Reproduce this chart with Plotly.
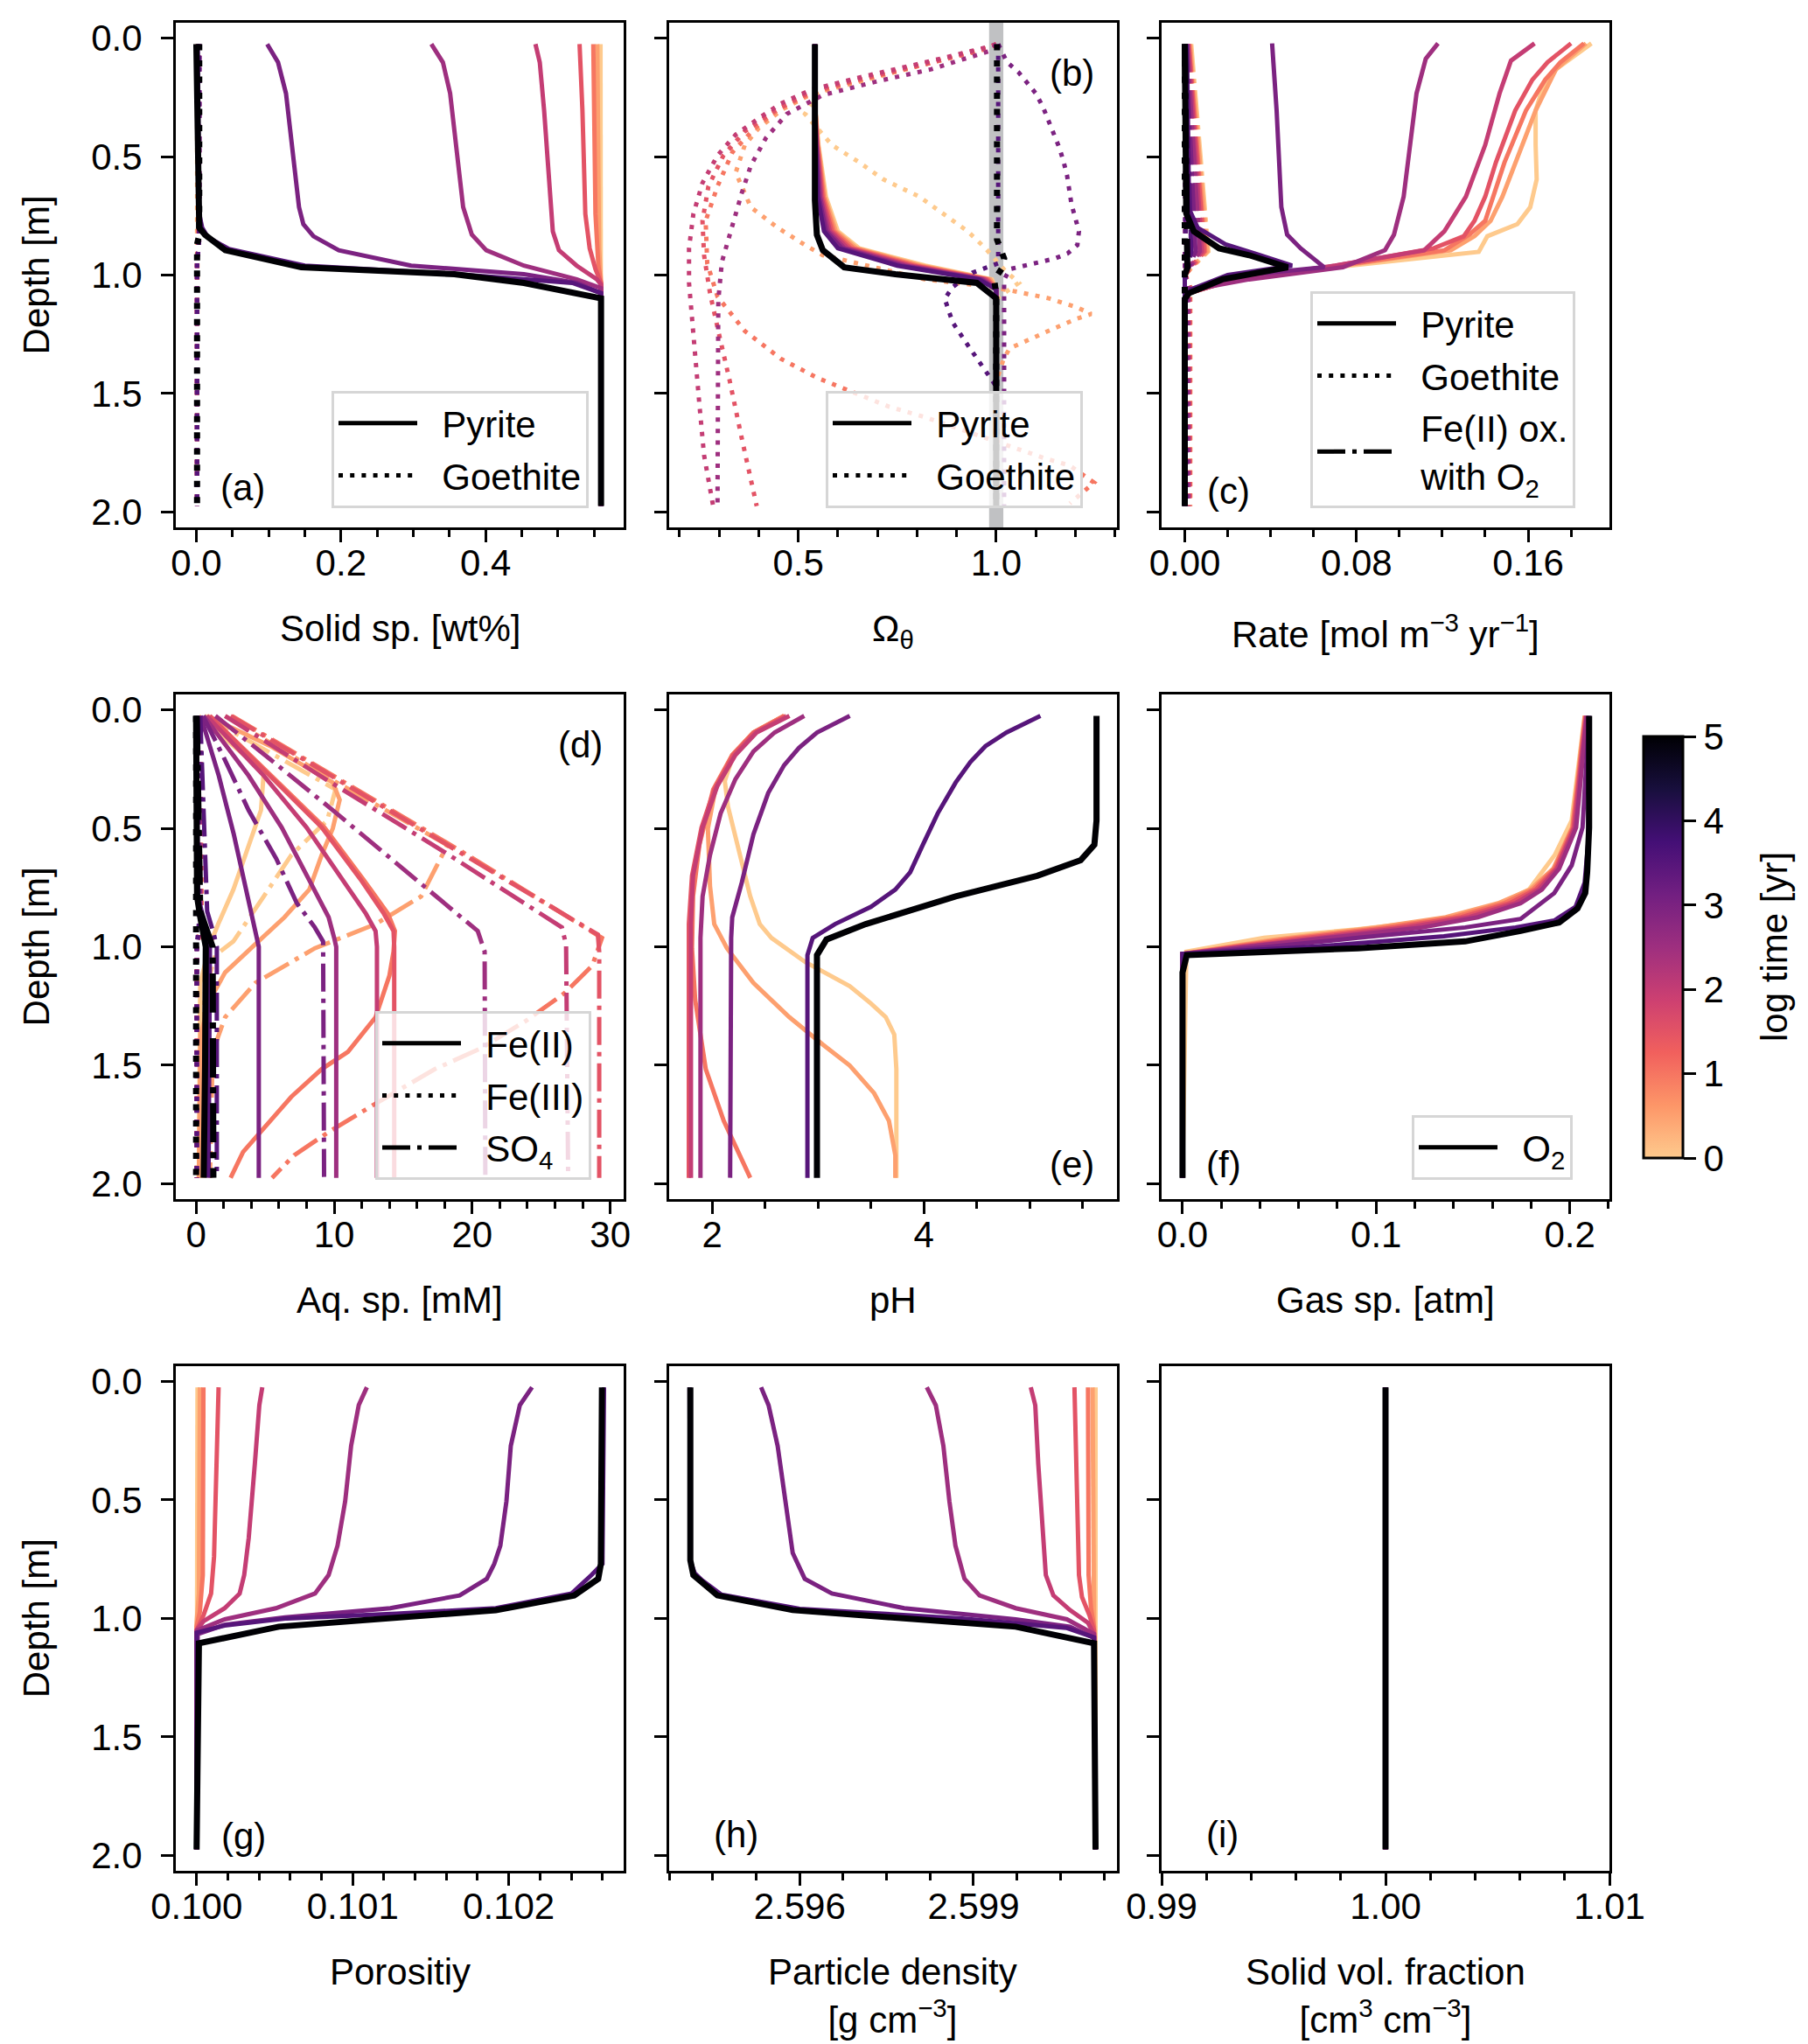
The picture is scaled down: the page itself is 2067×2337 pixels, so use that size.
import plotly.graph_objects as go

W, H = 2067, 2337
FONT = "Liberation Sans, Arial, sans-serif"
FS = 42

# log10 of time [yr] for each profile
LOG_T = [0, 0.5, 1, 1.5, 2, 2.5, 3, 3.5, 5]
# magma, reversed and cut before the pale yellow end
MAGMA_R = ["#feca8d", "#fd9668", "#f1605d", "#cd4071", "#9e2f7f",
           "#721f81", "#440f76", "#180f3d", "#000004"]

# (a) solid species [wt%]: depth list, value list
A_PYRITE = {
    0: ([0.025, 1.975], [0.559, 0.5597]),
    0.5: ([0.025, 0.887, 1.033, 1.975], [0.5545, 0.557, 0.5597, 0.5597]),
    1: ([0.025, 0.742, 0.96, 1.033, 1.975], [0.549, 0.552, 0.556, 0.5597, 0.5597]),
    1.5: ([0.025, 0.305, 0.742, 0.887, 0.975, 1.033, 1.975],
          [0.530, 0.534, 0.538, 0.544, 0.552, 0.5597, 0.5597]),
    2: ([0.025, 0.102, 0.305, 0.596, 0.815, 0.895, 0.96, 1.018, 1.04, 1.975],
        [0.469, 0.475, 0.481, 0.487, 0.493, 0.5015, 0.526, 0.554, 0.5597, 0.5597]),
    2.5: ([0.025, 0.102, 0.233, 0.451, 0.713, 0.829, 0.895, 0.96, 1.018, 1.055, 1.975],
          [0.325, 0.341, 0.351, 0.359, 0.369, 0.381, 0.401, 0.453, 0.526, 0.5597, 0.5597]),
    3: ([0.025, 0.102, 0.233, 0.451, 0.713, 0.785, 0.836, 0.895, 0.96, 0.996, 1.033, 1.076, 1.975],
        [0.098, 0.113, 0.124, 0.132, 0.142, 0.148, 0.162, 0.197, 0.297, 0.453, 0.526, 0.5597, 0.5597]),
    3.5: ([0.025, 0.74, 0.80, 0.84, 0.89, 0.96, 0.996, 1.033, 1.076, 1.975],
          [0.002, 0.004, 0.008, 0.016, 0.045, 0.15, 0.36, 0.52, 0.5597, 0.5597]),
    5: ([0.025, 0.74, 0.80, 0.83, 0.895, 0.967, 0.996, 1.033, 1.098, 1.975],
        [0.0, 0.002, 0.004, 0.012, 0.04, 0.145, 0.357, 0.453, 0.5597, 0.5597]),
}
A_GOETHITE = {
    0: ([0.025, 0.85, 0.95, 1.975], [0.001, 0.001, 0.001, 0.001]),
    0.5: ([0.025, 0.85, 0.95, 1.975], [0.002, 0.002, 0.001, 0.001]),
    1: ([0.025, 0.85, 0.95, 1.975], [0.003, 0.003, 0.001, 0.001]),
    1.5: ([0.025, 0.85, 0.95, 1.975], [0.003, 0.003, 0.001, 0.001]),
    2: ([0.025, 0.85, 0.95, 1.975], [0.004, 0.004, 0.001, 0.001]),
    2.5: ([0.025, 0.85, 0.95, 1.975], [0.004, 0.004, 0.001, 0.001]),
    3: ([0.025, 0.85, 0.95, 1.975], [0.004, 0.004, 0.001, 0.001]),
    3.5: ([0.025, 0.85, 0.95, 1.975], [0.004, 0.004, 0.001, 0.001]),
    5: ([0.025, 0.83, 0.87, 1.975], [0.004, 0.004, 0.001, 0.001]),
}

# (b) saturation state
B_PYRITE = {
    0: ([0.025, 0.3, 0.45, 0.67, 0.815, 0.887, 0.96, 1.018, 1.06, 1.975],
        [0.542, 0.543, 0.551, 0.57, 0.6, 0.654, 0.821, 0.989, 1.0, 1.0]),
    0.5: ([0.025, 0.3, 0.45, 0.67, 0.815, 0.887, 0.96, 1.018, 1.06, 1.975],
          [0.542, 0.543, 0.550, 0.567, 0.595, 0.647, 0.81, 0.985, 1.0, 1.0]),
    1: ([0.025, 0.3, 0.45, 0.67, 0.815, 0.887, 0.96, 1.018, 1.06, 1.975],
        [0.542, 0.543, 0.549, 0.564, 0.59, 0.64, 0.80, 0.98, 1.0, 1.0]),
    1.5: ([0.025, 0.3, 0.45, 0.67, 0.815, 0.887, 0.96, 1.018, 1.06, 1.975],
          [0.542, 0.542, 0.548, 0.561, 0.585, 0.632, 0.79, 0.975, 1.0, 1.0]),
    2: ([0.025, 0.3, 0.45, 0.67, 0.815, 0.887, 0.96, 1.018, 1.06, 1.975],
        [0.542, 0.542, 0.547, 0.558, 0.58, 0.625, 0.78, 0.97, 1.0, 1.0]),
    2.5: ([0.025, 0.3, 0.45, 0.67, 0.815, 0.887, 0.96, 1.018, 1.06, 1.975],
          [0.542, 0.542, 0.546, 0.555, 0.575, 0.617, 0.77, 0.965, 1.0, 1.0]),
    3: ([0.025, 0.3, 0.45, 0.67, 0.815, 0.887, 0.96, 1.018, 1.06, 1.975],
        [0.542, 0.542, 0.545, 0.552, 0.57, 0.61, 0.76, 0.96, 1.0, 1.0]),
    3.5: ([0.025, 0.3, 0.45, 0.67, 0.815, 0.887, 0.96, 1.018, 1.06, 1.975],
          [0.542, 0.542, 0.544, 0.549, 0.565, 0.6, 0.75, 0.955, 1.0, 1.0]),
    5: ([0.025, 0.684, 0.83, 0.895, 0.967, 0.996, 1.033, 1.062, 1.098, 1.975],
        [0.542, 0.542, 0.547, 0.562, 0.616, 0.745, 0.951, 0.973, 1.0, 1.0]),
}
B_GOETHITE = {
    0: ([0.025, 0.04, 0.11, 0.17, 0.23, 0.32, 0.451, 0.524, 0.596, 0.669, 0.742, 0.815, 0.887,
         0.975, 1.033, 1.1, 1.975],
        [1.0, 0.985, 0.82, 0.68, 0.55, 0.517, 0.585, 0.654, 0.715, 0.806, 0.867, 0.928, 0.973,
         1.019, 1.057, 1.0, 1.0]),
    0.5: ([0.025, 0.04, 0.11, 0.17, 0.23, 0.30, 0.38, 0.451, 0.567, 0.713, 0.8, 0.873, 0.916, 0.97,
           1.018, 1.047, 1.069, 1.098, 1.135, 1.164, 1.185, 1.229, 1.28, 1.309, 1.353, 1.45, 1.975],
          [1.0, 0.985, 0.82, 0.675, 0.54, 0.46, 0.4, 0.365, 0.342, 0.38, 0.448, 0.517, 0.562, 0.7,
           0.821, 0.973, 1.049, 1.133, 1.202, 1.24, 1.202, 1.141, 1.072, 1.034, 1.019, 1.0, 1.0]),
    1: ([0.025, 0.04, 0.11, 0.17, 0.23, 0.30, 0.38, 0.48, 0.625, 0.771, 0.95, 1.091, 1.236, 1.353,
         1.433, 1.484, 1.556, 1.6, 1.644, 1.687, 1.731, 1.775, 1.804, 1.876, 1.964],
        [1.0, 0.985, 0.82, 0.67, 0.535, 0.45, 0.39, 0.334, 0.296, 0.266, 0.27, 0.296, 0.365, 0.456,
         0.547, 0.623, 0.73, 0.821, 0.897, 0.973, 1.049, 1.126, 1.186, 1.247, 1.186]),
    1.5: ([0.025, 0.036, 0.109, 0.167, 0.225, 0.305, 0.393, 0.495, 0.625, 0.771, 0.916, 1.076,
           1.251, 1.44, 1.687, 1.975],
          [1.0, 0.985, 0.821, 0.669, 0.532, 0.441, 0.365, 0.311, 0.273, 0.258, 0.262, 0.277,
           0.3, 0.326, 0.357, 0.395]),
    2: ([0.025, 0.036, 0.102, 0.16, 0.218, 0.276, 0.335, 0.407, 0.495, 0.611, 0.742, 0.887,
         1.033, 1.178, 1.324, 1.542, 1.76, 1.975],
        [1.0, 0.981, 0.821, 0.669, 0.532, 0.456, 0.403, 0.342, 0.296, 0.258, 0.235, 0.224,
         0.224, 0.231, 0.239, 0.25, 0.262, 0.285]),
    2.5: ([0.025, 0.051, 0.131, 0.182, 0.24, 0.32, 0.422, 0.538, 0.655, 0.785, 0.945, 1.105,
           1.469, 1.975],
          [1.0, 0.989, 0.836, 0.699, 0.562, 0.471, 0.418, 0.38, 0.357, 0.334, 0.307, 0.298,
           0.298, 0.296]),
    3: ([0.025, 0.10, 0.145, 0.19, 0.233, 0.29, 0.35, 0.41, 0.465, 0.52, 0.58, 0.70, 0.756,
         0.815, 0.873, 0.909, 0.93, 0.945, 0.96, 0.975, 1.02, 1.975],
        [1.005, 1.027, 1.057, 1.08, 1.1, 1.118, 1.133, 1.148, 1.16, 1.17, 1.179, 1.19, 1.198,
         1.209, 1.205, 1.18, 1.148, 1.11, 1.072, 1.034, 1.02, 1.02]),
    3.5: ([0.025, 0.95, 0.99, 1.05, 1.1, 1.2, 1.3, 1.4, 1.47, 1.975],
          [1.005, 1.005, 0.94, 0.89, 0.87, 0.89, 0.93, 0.97, 1.0, 1.0]),
    5: ([0.025, 0.85, 0.93, 0.97, 1.02, 1.08, 1.975],
        [1.002, 1.002, 1.02, 1.015, 0.995, 1.0, 1.0]),
}
OMEGA_EQ = 1.0

# (c) rates [mol m-3 yr-1]
C_PYRITE = {
    0: ([0.022, 0.131, 0.233, 0.305, 0.451, 0.596, 0.713, 0.785, 0.836, 0.902, 0.967, 1.018, 1.076, 1.1, 1.975],
        [0.1895, 0.173, 0.166, 0.1635, 0.1635, 0.164, 0.161, 0.155, 0.141, 0.137, 0.07, 0.023, 0.002, 0.0, 0.0]),
    0.5: ([0.022, 0.131, 0.305, 0.524, 0.669, 0.771, 0.836, 0.895, 0.967, 1.018, 1.076, 1.1, 1.975],
          [0.187, 0.173, 0.1635, 0.154, 0.148, 0.1425, 0.135, 0.124, 0.068, 0.023, 0.002, 0.0, 0.0]),
    1: ([0.022, 0.102, 0.175, 0.305, 0.524, 0.669, 0.771, 0.829, 0.895, 0.967, 1.018, 1.076, 1.1, 1.975],
        [0.186, 0.175, 0.168, 0.159, 0.149, 0.144, 0.14, 0.1326, 0.121, 0.067, 0.023, 0.002, 0.0, 0.0]),
    1.5: ([0.022, 0.102, 0.175, 0.305, 0.524, 0.669, 0.771, 0.836, 0.887, 0.967, 1.018, 1.076, 1.1, 1.975],
          [0.180, 0.169, 0.162, 0.154, 0.145, 0.14, 0.135, 0.13, 0.116, 0.066, 0.023, 0.002, 0.0, 0.0]),
    2: ([0.022, 0.095, 0.233, 0.451, 0.669, 0.815, 0.895, 0.96, 1.018, 1.076, 1.1, 1.975],
        [0.163, 0.152, 0.1467, 0.14, 0.131, 0.121, 0.1116, 0.07, 0.023, 0.002, 0.0, 0.0]),
    2.5: ([0.022, 0.087, 0.233, 0.451, 0.669, 0.829, 0.895, 0.967, 1.018, 1.062, 1.105, 1.975],
          [0.118, 0.1123, 0.108, 0.105, 0.102, 0.0975, 0.0933, 0.0737, 0.03, 0.0035, 0.0, 0.0]),
    3: ([0.022, 0.305, 0.713, 0.829, 0.887, 0.967, 1.004, 1.062, 1.105, 1.975],
        [0.0407, 0.0428, 0.045, 0.0477, 0.054, 0.065, 0.023, 0.002, 0.0, 0.0]),
    3.5: ([0.025, 0.72, 0.80, 0.87, 0.91, 0.96, 1.0, 1.06, 1.1, 1.975],
          [0.001, 0.002, 0.006, 0.019, 0.033, 0.05, 0.02, 0.003, 0.0, 0.0]),
    5: ([0.025, 0.74, 0.815, 0.887, 0.916, 0.967, 1.018, 1.076, 1.1, 1.975],
        [0.0, 0.0007, 0.0042, 0.016, 0.03, 0.048, 0.0175, 0.002, 0.0, 0.0]),
}
C_GOETHITE = {
    0: ([0.025, 0.9, 1.0, 1.05, 1.975], [0.0008, 0.0008, 0.0003, 0.0025, 0.0025]),
    0.5: ([0.025, 0.9, 1.0, 1.05, 1.975], [0.0008, 0.0008, 0.0003, 0.0025, 0.0025]),
    1: ([0.025, 0.9, 1.0, 1.05, 1.975], [0.0008, 0.0008, 0.0003, 0.0025, 0.0025]),
    1.5: ([0.025, 0.9, 1.0, 1.05, 1.975], [0.0008, 0.0008, 0.0003, 0.0022, 0.0022]),
    2: ([0.025, 0.9, 1.0, 1.05, 1.975], [0.0006, 0.0006, 0.0003, 0.002, 0.002]),
    2.5: ([0.025, 0.9, 1.0, 1.05, 1.975], [0.0005, 0.0005, 0.0002, 0.0015, 0.0015]),
    3: ([0.025, 0.9, 1.0, 1.05, 1.975], [0.0003, 0.0003, 0.0002, 0.001, 0.001]),
    3.5: ([0.025, 0.9, 1.0, 1.05, 1.975], [0.0002, 0.0002, 0.0001, 0.0005, 0.0005]),
    5: ([0.025, 1.975], [0.0, 0.0]),
}
C_FEOX = {
    0: ([0.025, 0.9, 0.97, 1.0, 1.975], [0.003, 0.011, 0.003, 0.0, 0.0]),
    0.5: ([0.025, 0.9, 0.97, 1.0, 1.975], [0.0025, 0.0105, 0.003, 0.0, 0.0]),
    1: ([0.025, 0.9, 0.97, 1.0, 1.975], [0.002, 0.0095, 0.0028, 0.0, 0.0]),
    1.5: ([0.025, 0.9, 0.97, 1.0, 1.975], [0.0018, 0.009, 0.0025, 0.0, 0.0]),
    2: ([0.025, 0.9, 0.97, 1.0, 1.975], [0.0015, 0.008, 0.0022, 0.0, 0.0]),
    2.5: ([0.025, 0.9, 0.97, 1.0, 1.975], [0.001, 0.007, 0.002, 0.0, 0.0]),
    3: ([0.025, 0.9, 0.97, 1.0, 1.975], [0.0005, 0.005, 0.0018, 0.0, 0.0]),
    3.5: ([0.025, 0.9, 0.97, 1.0, 1.975], [0.0002, 0.003, 0.0015, 0.0, 0.0]),
    5: ([0.025, 0.9, 0.97, 1.0, 1.975], [0.0, 0.0005, 0.0012, 0.0, 0.0]),
}

# (d) aqueous species [mM]
D_FE2 = {
    0: ([0.025, 0.262, 0.423, 0.569, 0.758, 0.904, 0.991, 1.152, 1.975],
        [0.2, 4.9, 4.7, 3.8, 2.7, 1.6, 1.0, 0.3, 0.2]),
    0.5: ([0.025, 0.15, 0.306, 0.379, 0.5, 0.612, 0.758, 0.875, 0.991, 1.108, 1.224, 1.37, 1.975],
          [0.8, 5.3, 9.9, 10.4, 9.9, 9.1, 8.2, 6.4, 4.25, 2.1, 1.0, 0.33, 0.2]),
    1: ([0.025, 0.277, 0.496, 0.714, 0.86, 0.933, 1.02, 1.122, 1.297, 1.443, 1.516, 1.633, 1.764, 1.866, 1.975],
        [1.0, 5.45, 9.3, 12.1, 13.9, 14.4, 14.3, 14.0, 13.0, 11.0, 9.1, 6.9, 4.9, 3.4, 2.5]),
    1.5: ([0.025, 0.277, 0.496, 0.714, 0.86, 0.933, 1.0, 1.975],
          [0.98, 5.3, 9.1, 11.9, 13.6, 14.3, 14.35, 14.35]),
    2: ([0.025, 0.277, 0.496, 0.714, 0.86, 0.933, 1.0, 1.975],
        [0.76, 4.9, 8.0, 10.6, 12.3, 13.0, 13.1, 13.1]),
    2.5: ([0.025, 0.277, 0.496, 0.714, 0.875, 0.962, 1.0, 1.975],
          [0.55, 3.8, 6.2, 8.2, 9.6, 10.0, 10.15, 10.15]),
    3: ([0.025, 0.277, 0.525, 0.758, 0.933, 1.0, 1.975],
        [0.33, 1.64, 2.73, 3.6, 4.25, 4.54, 4.54]),
    3.5: ([0.025, 0.787, 0.875, 0.96, 1.0, 1.975], [0.02, 0.15, 0.5, 0.9, 1.0, 0.9]),
    5: ([0.025, 0.787, 0.875, 0.918, 0.96, 1.0, 1.5, 1.975],
        [0.0, 0.07, 0.3, 0.44, 0.6, 0.7, 0.65, 0.55]),
}
D_FE3 = {
    0: ([0.025, 0.9, 1.0, 1.975], [0.3, 0.4, 0.05, 0.05]),
    0.5: ([0.025, 0.9, 1.0, 1.975], [0.3, 0.4, 0.05, 0.05]),
    1: ([0.025, 0.9, 1.0, 1.975], [0.3, 0.4, 0.05, 0.05]),
    1.5: ([0.025, 0.9, 1.0, 1.975], [0.3, 0.35, 0.05, 0.05]),
    2: ([0.025, 0.9, 1.0, 1.975], [0.25, 0.35, 0.05, 0.05]),
    2.5: ([0.025, 0.9, 1.0, 1.975], [0.2, 0.3, 0.05, 0.05]),
    3: ([0.025, 0.9, 1.0, 1.975], [0.15, 0.25, 0.05, 0.05]),
    3.5: ([0.025, 0.9, 1.0, 1.975], [0.1, 0.2, 0.05, 0.05]),
    5: ([0.025, 0.9, 1.0, 1.975], [0.0, 0.05, 0.0, 0.0]),
}
D_SO4 = {
    0: ([0.025, 0.335, 0.466, 0.612, 0.787, 0.977, 1.035, 1.2, 1.975],
        [0.6, 10.1, 9.5, 6.9, 4.9, 2.7, 1.4, 0.6, 0.5]),
    0.5: ([0.025, 0.3, 0.57, 0.65, 0.787, 0.904, 1.006, 1.152, 1.297, 1.443, 1.975],
          [2.1, 10.0, 18.2, 17.5, 16.3, 13.0, 8.6, 4.3, 2.1, 1.2, 1.0]),
    1: ([0.025, 0.3, 0.6, 0.962, 1.079, 1.195, 1.312, 1.429, 1.516, 1.662, 1.778, 1.88, 1.975],
        [2.6, 10.6, 19.3, 29.4, 28.7, 26.7, 23.9, 20.6, 17.3, 13.0, 9.7, 7.1, 5.5]),
    1.5: ([0.025, 0.3, 0.6, 0.948, 1.02, 1.975], [2.5, 10.4, 19.0, 29.1, 29.2, 29.2]),
    2: ([0.025, 0.3, 0.6, 0.918, 0.991, 1.975], [2.1, 9.6, 18.0, 26.5, 26.8, 26.95]),
    2.5: ([0.025, 0.2, 0.423, 0.627, 0.8, 0.933, 1.02, 1.975],
          [1.4, 5.2, 9.9, 14.1, 17.6, 20.4, 20.9, 20.95]),
    3: ([0.025, 0.2, 0.423, 0.627, 0.816, 0.918, 0.977, 1.975],
        [0.5, 2.0, 3.8, 5.8, 7.3, 8.6, 9.2, 9.27]),
    3.5: ([0.025, 0.85, 0.95, 1.0, 1.975], [0.3, 0.8, 1.3, 1.5, 1.5]),
    5: ([0.025, 0.85, 0.95, 1.0, 1.975], [0.05, 0.3, 0.9, 1.2, 1.25]),
}

# (e) pH
E_PH = {
    0: ([0.025, 0.095, 0.19, 0.3, 0.408, 0.583, 0.787, 0.904, 0.962, 1.064, 1.166, 1.239, 1.297, 1.37, 1.516, 1.975],
        [2.68, 2.39, 2.2, 2.12, 2.15, 2.25, 2.36, 2.45, 2.56, 2.88, 3.3, 3.5, 3.64, 3.72, 3.74, 3.74]),
    0.5: ([0.025, 0.095, 0.19, 0.336, 0.5, 0.743, 0.904, 1.006, 1.152, 1.297, 1.414, 1.501, 1.618, 1.735, 1.88, 1.975],
          [2.68, 2.39, 2.19, 2.03, 1.96, 1.98, 2.02, 2.14, 2.39, 2.73, 3.05, 3.3, 3.53, 3.67, 3.73, 3.73]),
    1: ([0.025, 0.095, 0.19, 0.336, 0.569, 0.787, 1.006, 1.224, 1.516, 1.735, 1.975],
        [2.68, 2.39, 2.19, 2.01, 1.88, 1.82, 1.81, 1.84, 1.94, 2.11, 2.36]),
    1.5: ([0.025, 0.095, 0.19, 0.336, 0.496, 0.7, 0.904, 1.975],
          [2.70, 2.40, 2.20, 2.02, 1.90, 1.81, 1.78, 1.78]),
    2: ([0.025, 0.095, 0.19, 0.32, 0.496, 0.7, 0.904, 1.975],
        [2.73, 2.42, 2.22, 2.05, 1.91, 1.82, 1.80, 1.80]),
    2.5: ([0.025, 0.095, 0.175, 0.292, 0.437, 0.612, 0.787, 0.962, 1.975],
          [2.87, 2.59, 2.39, 2.22, 2.08, 1.98, 1.91, 1.89, 1.89]),
    3: ([0.025, 0.095, 0.16, 0.233, 0.35, 0.525, 0.729, 0.875, 0.962, 1.975],
        [3.3, 2.99, 2.82, 2.68, 2.53, 2.39, 2.28, 2.19, 2.18, 2.17]),
    3.5: ([0.025, 0.095, 0.153, 0.219, 0.306, 0.437, 0.569, 0.685, 0.758, 0.831, 0.904, 0.962, 1.035, 1.975],
          [5.1, 4.78, 4.58, 4.44, 4.3, 4.13, 3.99, 3.87, 3.73, 3.5, 3.16, 2.95, 2.9, 2.9]),
    5: ([0.025, 0.466, 0.569, 0.634, 0.70, 0.787, 0.904, 0.969, 1.035, 1.975],
        [5.63, 5.63, 5.61, 5.48, 5.07, 4.3, 3.45, 3.08, 2.99, 2.99]),
}

# (f) gas species [atm]
F_O2 = {
    0: ([0.025, 0.466, 0.612, 0.758, 0.831, 0.889, 0.926, 0.962, 1.02, 1.975],
        [0.2077, 0.201, 0.1923, 0.179, 0.161, 0.13, 0.0906, 0.042, 0.002, 0.0]),
    0.5: ([0.025, 0.496, 0.67, 0.758, 0.816, 0.875, 0.918, 0.969, 1.03, 1.975],
          [0.2078, 0.2012, 0.1915, 0.1795, 0.163, 0.136, 0.1, 0.048, 0.0, 0.0]),
    1: ([0.025, 0.496, 0.67, 0.758, 0.816, 0.875, 0.918, 0.969, 1.03, 1.975],
        [0.208, 0.2015, 0.192, 0.181, 0.166, 0.14, 0.105, 0.052, 0.0, 0.0]),
    1.5: ([0.025, 0.496, 0.67, 0.758, 0.816, 0.875, 0.918, 0.969, 1.03, 1.975],
          [0.2083, 0.202, 0.1928, 0.1825, 0.169, 0.144, 0.11, 0.057, 0.0, 0.0]),
    2: ([0.025, 0.496, 0.67, 0.758, 0.816, 0.875, 0.918, 0.969, 1.03, 1.975],
        [0.2085, 0.2025, 0.1935, 0.184, 0.172, 0.148, 0.116, 0.062, 0.0, 0.0]),
    2.5: ([0.025, 0.496, 0.67, 0.758, 0.816, 0.875, 0.918, 0.969, 1.03, 1.975],
          [0.2088, 0.2033, 0.1945, 0.1856, 0.1746, 0.1525, 0.1238, 0.0685, 0.0, 0.0]),
    3: ([0.025, 0.496, 0.656, 0.773, 0.882, 0.918, 0.962, 0.999, 1.03, 1.975],
        [0.21, 0.2066, 0.201, 0.192, 0.1746, 0.146, 0.0906, 0.046, 0.0, 0.0]),
    3.5: ([0.025, 0.56, 0.729, 0.831, 0.889, 0.918, 0.955, 0.999, 1.03, 1.975],
          [0.21, 0.2095, 0.2077, 0.203, 0.192, 0.172, 0.135, 0.0685, 0.0, 0.0]),
    5: ([0.025, 0.496, 0.685, 0.773, 0.838, 0.897, 0.933, 0.977, 1.006, 1.02, 1.035, 1.108, 1.975],
        [0.21, 0.21, 0.209, 0.208, 0.204, 0.1945, 0.1746, 0.146, 0.0906, 0.0464, 0.0022, 0.0, 0.0]),
}

# (g) porosity
G_POR = {
    0: ([0.025, 1.0, 1.975], [0.100006, 0.100003, 0.1]),
    0.5: ([0.025, 0.895, 1.02, 1.975], [0.100021, 0.100015, 0.1, 0.1]),
    1: ([0.025, 0.817, 0.973, 1.035, 1.975], [0.100044, 0.10004, 0.100021, 0.1, 0.1]),
    1.5: ([0.025, 0.35, 0.739, 0.895, 0.988, 1.05, 1.975],
          [0.100141, 0.100125, 0.100112, 0.100093, 0.100044, 0.1, 0.1]),
    2: ([0.025, 0.1, 0.35, 0.661, 0.817, 0.895, 0.957, 1.012, 1.05, 1.975],
        [0.100421, 0.100402, 0.100373, 0.100334, 0.100305, 0.100276, 0.10018, 0.100044, 0.1, 0.1]),
    2.5: ([0.025, 0.1, 0.272, 0.506, 0.693, 0.817, 0.895, 0.957, 1.004, 1.05, 1.975],
          [0.101091, 0.101039, 0.10099, 0.100952, 0.100903, 0.100846, 0.100759, 0.100508, 0.10018, 0.100006, 0.1]),
    3: ([0.025, 0.1, 0.272, 0.506, 0.693, 0.77, 0.833, 0.903, 0.957, 0.996, 1.027, 1.066, 1.975],
        [0.102149, 0.102071, 0.102013, 0.101985, 0.101946, 0.101907, 0.101859, 0.101685, 0.101241,
         0.100566, 0.10018, 0.100006, 0.1]),
    3.5: ([0.025, 0.77, 0.817, 0.895, 0.957, 0.98, 1.0, 1.03, 1.06, 1.975],
          [0.10261, 0.1026, 0.10253, 0.102403, 0.101917, 0.10128, 0.10058, 0.10018, 0.1, 0.1]),
    5: ([0.025, 0.77, 0.833, 0.903, 0.965, 1.035, 1.105, 1.975],
        [0.102597, 0.10259, 0.102573, 0.102419, 0.101917, 0.100527, 0.100015, 0.1]),
}

# (h) particle density [g cm-3]
H_RHO = {
    0: ([0.025, 1.975], [2.601106, 2.601106]),
    0.5: ([0.025, 0.895, 1.02, 1.975], [2.601054, 2.60107, 2.60108, 2.601106]),
    1: ([0.025, 0.817, 0.957, 1.035, 1.975], [2.600976, 2.600986, 2.601028, 2.60108, 2.601106]),
    1.5: ([0.025, 0.35, 0.817, 0.91, 0.988, 1.05, 1.975],
          [2.600742, 2.600768, 2.60082, 2.600872, 2.601002, 2.60108, 2.601106]),
    2: ([0.025, 0.101, 0.35, 0.661, 0.817, 0.903, 0.965, 1.019, 1.066, 1.975],
        [2.599988, 2.600066, 2.600118, 2.600196, 2.600248, 2.600378, 2.600664, 2.600976, 2.60108, 2.601106]),
    2.5: ([0.025, 0.101, 0.272, 0.506, 0.693, 0.833, 0.903, 0.957, 1.004, 1.066, 1.975],
          [2.598194, 2.59835, 2.59848, 2.598584, 2.598688, 2.598844, 2.599104, 2.599728, 2.600612,
           2.60108, 2.601106]),
    3: ([0.025, 0.101, 0.272, 0.506, 0.724, 0.833, 0.895, 0.957, 1.004, 1.035, 1.082, 1.975],
        [2.595334, 2.595464, 2.59562, 2.59575, 2.59588, 2.596088, 2.596556, 2.597804, 2.599728,
         2.600664, 2.60108, 2.601106]),
    3.5: ([0.025, 0.755, 0.81, 0.84, 0.9, 0.96, 1.0, 1.04, 1.08, 1.975],
          [2.5941, 2.59411, 2.59419, 2.59432, 2.59465, 2.596, 2.5988, 2.6006, 2.60108, 2.601106]),
    5: ([0.025, 0.755, 0.817, 0.84, 0.903, 0.965, 1.035, 1.105, 1.975],
        [2.594113, 2.594113, 2.594165, 2.594269, 2.594581, 2.59588, 2.599728, 2.60108, 2.601106]),
}

# (i) solid volume fraction [cm3 cm-3]
I_VOL = {
    0: ([0.025, 1.975], [1.0, 1.0]),
    0.5: ([0.025, 1.975], [1.0, 1.0]),
    1: ([0.025, 1.975], [1.0, 1.0]),
    1.5: ([0.025, 1.975], [1.0, 1.0]),
    2: ([0.025, 1.975], [1.0, 1.0]),
    2.5: ([0.025, 1.975], [1.0, 1.0]),
    3: ([0.025, 1.975], [1.0, 1.0]),
    3.5: ([0.025, 1.975], [1.0, 1.0]),
    5: ([0.025, 1.975], [1.0, 1.0]),
}

X_TITLES = ["Solid sp. [wt%]", "Ω<sub>θ</sub>", "Rate [mol m<sup>−3</sup> yr<sup>−1</sup>]",
            "Aq. sp. [mM]", "pH", "Gas sp. [atm]",
            "Porositiy", "Particle density<br>[g cm<sup>−3</sup>]",
            "Solid vol. fraction<br>[cm<sup>3</sup> cm<sup>−3</sup>]"]
PANEL_TAGS = ["(a)", "(b)", "(c)", "(d)", "(e)", "(f)", "(g)", "(h)", "(i)"]
CBAR_TITLE = "log time [yr]"
CBAR_TICKS = [0, 1, 2, 3, 4, 5]


def hex_rgb(h):
    return tuple(int(h[i:i + 2], 16) for i in (1, 3, 5))


def time_color(t):
    f = t / 5 * (len(MAGMA_R) - 1)
    i = min(int(f), len(MAGMA_R) - 2)
    a, b = hex_rgb(MAGMA_R[i]), hex_rgb(MAGMA_R[i + 1])
    w = f - i
    return "rgb(%d,%d,%d)" % tuple(round(a[k] + (b[k] - a[k]) * w) for k in range(3))


def line_style(style, width):
    if style == "dot":
        return "%.1fpx,%.1fpx" % (width, 1.65 * width)
    if style == "dashdot":
        return "%.1fpx,%.1fpx,%.1fpx,%.1fpx" % (6.4 * width, 1.6 * width, width, 1.6 * width)
    return "solid"


# pixel boxes of the 3x3 grid
COLS = [(193, 705), (756.5, 1268.6), (1320, 1832)]
ROWS = [(17.8, 595), (785.9, 1363), (1553.5, 2131)]
Y_RANGE = [2.065, -0.066]

# per panel: x range, major tick0/dtick, minor dtick, label format
X_AXES = [
    ([-0.0284, 0.591], 0, 0.2, 0.05, ".1f"),
    ([0.1727, 1.3042], 0, 0.5, 0.1, ".1f"),
    ([-0.0108, 0.1979], 0, 0.08, 0.02, ".2f"),
    ([-1.47, 30.97], 0, 10, 2, "d"),
    ([1.59, 5.82], 0, 2, 0.5, "d"),
    ([-0.0108, 0.2205], 0, 0.1, 0.02, ".1f"),
    ([0.099867, 0.102736], 0.1, 0.001, 0.0002, ".3f"),
    ([2.59374, 2.60147], 2.596, 0.003, 0.00075, ".3f"),
    ([0.99, 1.01], 0.99, 0.01, 0.002, ".2f"),
]

PANELS = [
    [(A_PYRITE, "solid"), (A_GOETHITE, "dot")],
    [(B_PYRITE, "solid"), (B_GOETHITE, "dot")],
    [(C_PYRITE, "solid"), (C_GOETHITE, "dot"), (C_FEOX, "dashdot")],
    [(D_FE2, "solid"), (D_FE3, "dot"), (D_SO4, "dashdot")],
    [(E_PH, "solid")],
    [(F_O2, "solid")],
    [(G_POR, "solid")],
    [(H_RHO, "solid")],
    [(I_VOL, "solid")],
]

# legends: (panel index, legend name, entries, right px, bottom px)
LEGENDS = [
    (0, "legend", [("Pyrite", "solid"), ("Goethite", "dot")], 665, 573),
    (1, "legend2", [("Pyrite", "solid"), ("Goethite", "dot")], 1230, 573),
    (2, "legend3", [("Pyrite", "solid"), ("Goethite", "dot"),
                    ("Fe(II) ox.<br>with O<sub>2</sub>", "dashdot")], 1793, 573),
    (3, "legend4", [("Fe(II)", "solid"), ("Fe(III)", "dot"), ("SO<sub>4</sub>", "dashdot")], 668, 1341),
    (5, "legend5", [("O<sub>2</sub>", "solid")], 1790, 1341),
]

fig = go.Figure()


def ax_names(i):
    s = "" if i == 0 else str(i + 1)
    return "x" + s, "y" + s


for i, specs in enumerate(PANELS):
    xn, yn = ax_names(i)
    for t in LOG_T:
        width = 7 if t == 5 else 5
        for data, style in specs:
            depth, vals = data[t]
            fig.add_trace(go.Scatter(
                x=vals, y=depth, mode="lines", xaxis=xn, yaxis=yn,
                line=dict(color=time_color(t), width=width, dash=line_style(style, width)),
                showlegend=False, hoverinfo="skip"))

GAP = "\u00a0\u00a0"
for i, lname, entries, right_px, bottom_px in LEGENDS:
    xn, yn = ax_names(i)
    for k, (name, style) in enumerate(entries):
        fig.add_trace(go.Scatter(
            x=[None], y=[None], mode="lines", xaxis=xn, yaxis=yn,
            name=GAP + name.replace("<br>", "<br>" + GAP),
            line=dict(color="black", width=5, dash=line_style(style, 5)),
            legend=lname, legendgroup=lname + str(k), showlegend=True))
    fig.update_layout({lname: dict(
        x=right_px / W, xanchor="right", y=1 - bottom_px / H, yanchor="bottom",
        bgcolor="rgba(255,255,255,0.8)", bordercolor="#d6d6d6", borderwidth=3,
        font=dict(size=FS, family=FONT, color="black"), itemwidth=90,
        tracegroupgap=2, itemclick=False)})

# colour bar for log time
fig.add_trace(go.Scatter(
    x=[None], y=[None], mode="markers", xaxis="x6", yaxis="y6", showlegend=False,
    marker=dict(color=[LOG_T[0]], cmin=0, cmax=5, showscale=True,
                colorscale=[[k / (len(MAGMA_R) - 1), c] for k, c in enumerate(MAGMA_R)],
                colorbar=dict(
                    x=1871 / W, xanchor="left", y=1 - 1075 / H, yanchor="middle",
                    len=482 / H, lenmode="fraction", thickness=45, thicknessmode="pixels",
                    xpad=0, ypad=0, outlinewidth=3, outlinecolor="black",
                    ticks="outside", ticklen=14, tickwidth=3, tickcolor="black",
                    tickvals=CBAR_TICKS, tickfont=dict(size=FS, family=FONT, color="black")))))

layout = {}
annotations = []
for i in range(9):
    r, c = divmod(i, 3)
    xn, yn = ax_names(i)
    rng, t0, dt, mdt, fmt = X_AXES[i]
    common = dict(showline=True, mirror=True, linecolor="black", linewidth=3,
                  ticks="outside", ticklen=14, tickwidth=3, tickcolor="black",
                  showgrid=False, zeroline=False,
                  tickfont=dict(size=FS, family=FONT, color="black"))
    layout["xaxis" + xn[1:]] = dict(
        domain=[COLS[c][0] / W, COLS[c][1] / W], anchor=yn, range=rng,
        tick0=t0, dtick=dt, tickformat=fmt, ticklabelstandoff=-12,
        minor=dict(tick0=t0, dtick=mdt, ticks="outside", ticklen=8, tickwidth=2.5,
                   tickcolor="black", showgrid=False),
        **common)
    layout["yaxis" + yn[1:]] = dict(
        domain=[1 - ROWS[r][1] / H, 1 - ROWS[r][0] / H], anchor=xn, range=Y_RANGE,
        tick0=0, dtick=0.5, tickformat=".1f", showticklabels=(c == 0),
        ticklabelstandoff=13, **common)
    cx = (COLS[c][0] + COLS[c][1]) / 2 / W
    annotations.append(dict(
        text=X_TITLES[i], x=cx, y=1 - (ROWS[r][1] + 90) / H, xref="paper", yref="paper",
        xanchor="center", yanchor="top", showarrow=False,
        font=dict(size=FS, family=FONT, color="black")))

for r in range(3):
    annotations.append(dict(
        text="Depth [m]", x=33 / W, y=1 - (ROWS[r][0] + ROWS[r][1]) / 2 / H,
        xref="paper", yref="paper", textangle=-90, showarrow=False,
        xanchor="center", yanchor="middle", font=dict(size=FS, family=FONT, color="black")))

annotations.append(dict(
    text=CBAR_TITLE, x=2020 / W, y=1 - 1075 / H, xref="paper", yref="paper", textangle=-90,
    showarrow=False, xanchor="center", yanchor="middle",
    font=dict(size=FS, family=FONT, color="black")))

TAG_PX = [(269.5, 549.6), (1217, 75), (1396, 553.6), (655, 843), (1217, 1323.7),
          (1390.5, 1323.7), (270, 2091), (833.7, 2089), (1389.5, 2089)]
for tag, (px, py) in zip(PANEL_TAGS, TAG_PX):
    annotations.append(dict(
        text=tag, x=px / W, y=1 - py / H, xref="paper", yref="paper", showarrow=False,
        xanchor="center", yanchor="middle", font=dict(size=FS, family=FONT, color="black")))

fig.update_layout(**layout)
fig.update_layout(
    width=W, height=H,
    margin=dict(l=0, r=0, t=0, b=0, autoexpand=False),
    paper_bgcolor="white", plot_bgcolor="white",
    font=dict(family=FONT, size=FS, color="black"),
    annotations=annotations,
    shapes=[dict(type="rect", xref="x2", yref="y2 domain", x0=OMEGA_EQ - 0.018, x1=OMEGA_EQ + 0.018,
                 y0=0, y1=1, fillcolor="rgb(192,193,195)", line=dict(width=0), layer="below")],
)

fig.write_html("out.html")
